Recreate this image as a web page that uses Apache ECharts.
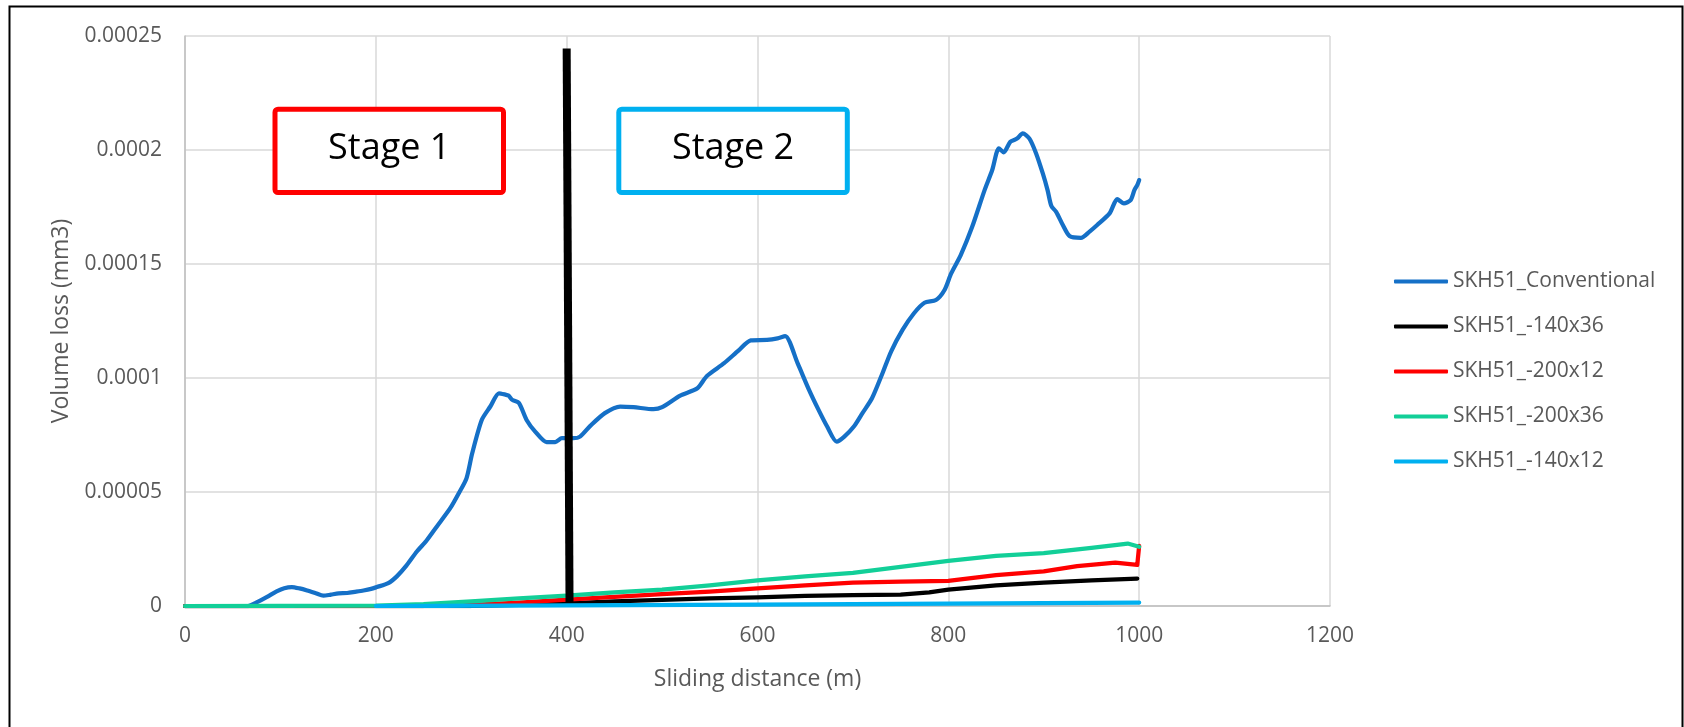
<!DOCTYPE html>
<html>
<head>
<meta charset="utf-8">
<script src="https://cdn.jsdelivr.net/npm/echarts@6/dist/echarts.min.js"></script>
<style>
html,body{margin:0;padding:0;background:#fff;}
#chart{width:1684px;height:727px;}
</style>
</head>
<body>
<div id="chart"></div>
<script>
// ---- data (sliding distance m, volume loss mm3) ----
const seriesNames = ['SKH51_Conventional', 'SKH51_-140x36', 'SKH51_-200x12', 'SKH51_-200x36', 'SKH51_-140x12'];
const seriesColors = ['#1570C7', '#000000', '#FF0000', '#12CF98', '#00B0F0'];

const conventional = [
  [0,0],[40,0],[66,0],[75,1.6e-6],[86,4.0e-6],[96,6.4e-6],[104,7.8e-6],[112,8.3e-6],[120,7.7e-6],
  [128,6.8e-6],[137,5.6e-6],[145,4.5e-6],[153,5.0e-6],[161,5.5e-6],[170,5.7e-6],[178,6.2e-6],
  [187,6.8e-6],[195,7.5e-6],[201,8.3e-6],[213,1.0e-5],[222,1.3e-5],[232,1.77e-5],[243,2.39e-5],
  [253,2.86e-5],[264,3.49e-5],[278,4.29e-5],[287,4.95e-5],[295,5.6e-5],[301,6.7e-5],[311,8.16e-5],
  [320,8.75e-5],[329,9.33e-5],[335,9.28e-5],[339,9.23e-5],[343,9.04e-5],[350,8.9e-5],[358,8.16e-5],
  [367,7.65e-5],[379,7.19e-5],[388,7.19e-5],[395,7.36e-5],[407,7.36e-5],[414,7.43e-5],[425,7.91e-5],
  [440,8.46e-5],[456,8.75e-5],[470,8.72e-5],[491,8.63e-5],[500,8.72e-5],[519,9.23e-5],[537,9.55e-5],
  [547,1.009e-4],[565,1.065e-4],[580,1.12e-4],[593,1.165e-4],[610,1.167e-4],[621,1.174e-4],
  [629,1.184e-4],[642,1.065e-4],[654,9.48e-5],[664,8.6e-5],[673,7.87e-5],[683,7.21e-5],[691,7.43e-5],
  [701,7.87e-5],[710,8.46e-5],[720,9.11e-5],[731,1.021e-4],[740,1.116e-4],[752,1.211e-4],
  [764,1.284e-4],[775,1.33e-4],[787,1.342e-4],[796,1.386e-4],[803,1.459e-4],[813,1.539e-4],
  [825,1.663e-4],[838,1.824e-4],[846,1.912e-4],[853,2.007e-4],[858,1.99e-4],[865,2.036e-4],
  [872,2.05e-4],[878,2.073e-4],[885,2.05e-4],[892,1.985e-4],[899,1.897e-4],[904,1.824e-4],
  [908,1.754e-4],[913,1.729e-4],[920,1.671e-4],[927,1.623e-4],[939,1.615e-4],[948,1.642e-4],
  [956,1.671e-4],[969,1.722e-4],[977,1.784e-4],[984,1.766e-4],[991,1.78e-4],[995,1.824e-4],
  [998,1.846e-4],[1000,1.868e-4]
];
const s140x36 = [
  [0,0],[300,0],[350,5e-7],[400,1.2e-6],[450,2.0e-6],[500,2.7e-6],[550,3.3e-6],[600,3.8e-6],
  [650,4.4e-6],[700,4.8e-6],[750,5.0e-6],[780,6.0e-6],[800,7.2e-6],[850,9.0e-6],[900,1.02e-5],
  [950,1.12e-5],[998,1.2e-5]
];
const s200x12 = [
  [0,0],[250,0],[300,5e-7],[350,1.5e-6],[400,2.8e-6],[450,4.0e-6],[500,5.2e-6],[550,6.3e-6],
  [600,7.7e-6],[650,9.0e-6],[700,1.02e-5],[750,1.07e-5],[800,1.1e-5],[850,1.35e-5],[900,1.52e-5],
  [935,1.75e-5],[975,1.9e-5],[998,1.8e-5],[1000,2.64e-5]
];
const s200x36 = [
  [0,0],[200,2e-7],[250,8e-7],[300,2.0e-6],[350,3.3e-6],[400,4.5e-6],[450,6.0e-6],[500,7.2e-6],
  [550,9.0e-6],[600,1.12e-5],[650,1.3e-5],[700,1.45e-5],[750,1.72e-5],[800,1.98e-5],[850,2.2e-5],
  [900,2.32e-5],[950,2.55e-5],[988,2.74e-5],[1000,2.6e-5]
];
const s140x12 = [
  [200,0],[400,3e-7],[600,6e-7],[800,1.0e-6],[1000,1.5e-6]
];
const stageDivider = [[400,2.445e-4],[403,1.5e-6]];

const xTicks = [0,200,400,600,800,1000,1200];
const yTickLabels = ['0','0.00005','0.0001','0.00015','0.0002','0.00025'];
const yStep = 0.00005;
const stageLabels = ['Stage 1','Stage 2'];

const FONT = '"Open Sans", sans-serif';
const chart = echarts.init(document.getElementById('chart'), null, {renderer:'canvas'});

const seriesData = [conventional, s140x36, s200x12, s200x36, s140x12];
const series = seriesNames.map((n,i)=>({
  name:n, type:'line', data:seriesData[i], symbol:'none', showSymbol:false,
  smooth: i===0 ? 0.25 : false,
  lineStyle:{color:seriesColors[i], width:4.25, cap:'round', join:'round'},
  itemStyle:{color:seriesColors[i]},
  z: 2+i
}));
series.push({
  name:'divider', type:'line', data:stageDivider, symbol:'none',
  lineStyle:{color:'#000', width:8}, z:20, silent:true
});

function box(x,y,w,h,color,label){
  return [{
    type:'rect', z:100,
    shape:{x:x,y:y,width:w,height:h,r:3},
    style:{fill:'#fff', stroke:color, lineWidth:5}
  },{
    type:'text', z:101, x:x+w/2, y:y+h/2-2,
    style:{text:label, fill:'#000', font:'36px '+FONT, align:'center', verticalAlign:'middle'}
  }];
}

chart.setOption({
  animation:false,
  backgroundColor:'#fff',
  textStyle:{fontFamily:FONT},
  grid:{left:185, right:354, top:36, bottom:121, containLabel:false},
  xAxis:{
    type:'value', min:xTicks[0], max:xTicks[xTicks.length-1], interval:200,
    axisLine:{show:true, lineStyle:{color:'#BFBFBF', width:1.5}},
    axisTick:{show:false},
    splitLine:{show:true, lineStyle:{color:'#D9D9D9', width:1.5}},
    axisLabel:{color:'#595959', fontSize:21, margin:20, fontFamily:FONT,
      formatter:v=>String(xTicks[Math.round(v/200)])},
    name:'Sliding distance (m)', nameLocation:'middle', nameGap:62,
    nameTextStyle:{color:'#595959', fontSize:23, fontFamily:FONT}
  },
  yAxis:{
    type:'value', min:0, max:0.00025, interval:yStep,
    axisLine:{show:true, lineStyle:{color:'#BFBFBF', width:1.5}},
    axisTick:{show:false},
    splitLine:{show:true, lineStyle:{color:'#D9D9D9', width:1.5}},
    axisLabel:{color:'#595959', fontSize:21, margin:23, fontFamily:FONT,
      formatter:v=>yTickLabels[Math.round(v/yStep)]},
    name:'Volume loss (mm3)', nameLocation:'middle', nameGap:112, nameRotate:90,
    nameTextStyle:{color:'#595959', fontSize:23, fontFamily:FONT}
  },
  legend:{
    data:seriesNames.map(n=>({name:n, icon:'roundRect'})),
    orient:'vertical', left:1394, top:267,
    itemWidth:54, itemHeight:4, itemGap:16, padding:0,
    textStyle:{color:'#595959', fontSize:21, fontFamily:FONT, lineHeight:29},
    itemStyle:{opacity:1, borderWidth:0}
  },
  graphic:[
    {type:'rect', z:0, silent:true, shape:{x:9.5,y:6.5,width:1673,height:760},
      style:{fill:null, stroke:'#000', lineWidth:2}},
    ...box(275,109.2,228.5,83.3,'#FF0000',stageLabels[0]),
    ...box(618.8,109.2,228.5,83.3,'#00B0F0',stageLabels[1])
  ],
  series:series
});
</script>
</body>
</html>
